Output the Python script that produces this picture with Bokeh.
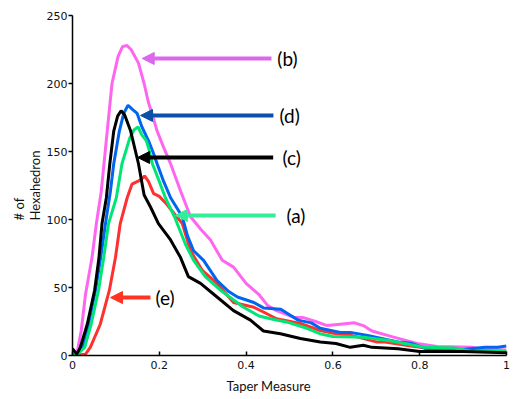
from bokeh.plotting import figure
from bokeh.models import Range1d, FixedTicker, Arrow, NormalHead, Label, Title
from bokeh.embed import file_html
from bokeh.resources import INLINE

# ---- data ----
b_x = [0, 0.01, 0.02, 0.03, 0.045, 0.055, 0.066, 0.08, 0.091, 0.105, 0.115, 0.125, 0.135, 0.152,
       0.165, 0.175, 0.185, 0.195, 0.21, 0.226, 0.249, 0.272, 0.295, 0.318, 0.345, 0.371, 0.40,
       0.429, 0.449, 0.47, 0.487, 0.51, 0.53, 0.56, 0.587, 0.617, 0.65, 0.67, 0.69, 0.74, 0.794,
       0.84, 0.92, 0.95, 1.0]
b_y = [3, 1, 18, 45, 72, 97, 120, 165, 200, 220, 227, 228, 225, 215,
       200, 186, 176, 165, 153, 141, 121, 102, 93, 85, 70, 65, 53,
       45, 37, 33, 31, 28, 28, 25, 22, 23, 24, 22, 18, 13.5, 8.8,
       6.6, 6, 4.5, 4]

d_x = [0, 0.01, 0.023, 0.037, 0.053, 0.065, 0.076, 0.0875, 0.095, 0.108, 0.118, 0.128, 0.138,
       0.149, 0.16, 0.175, 0.185, 0.195, 0.21, 0.226, 0.253, 0.265, 0.279, 0.302, 0.333, 0.36,
       0.38, 0.418, 0.44, 0.48, 0.5, 0.52, 0.55, 0.571, 0.617, 0.64, 0.68, 0.75, 0.78, 0.82,
       0.9, 0.95, 0.98, 1.0]
d_y = [2, 0.5, 6, 23, 48, 72, 97, 121, 141, 165, 178, 184, 181,
       178, 168, 158, 150, 141, 128, 116, 102, 88, 77, 70, 55, 47,
       43, 39, 35, 34, 30, 26, 24, 20, 17, 17, 14.7, 10, 9, 4.4,
       4.4, 6, 6, 7]

c_x = [0, 0.01, 0.018, 0.034, 0.051, 0.061, 0.068, 0.078, 0.086, 0.095, 0.104, 0.112, 0.12,
       0.134, 0.152, 0.165, 0.18, 0.198, 0.226, 0.249, 0.267, 0.295, 0.333, 0.371, 0.41, 0.44,
       0.479, 0.525, 0.571, 0.607, 0.64, 0.67, 0.69, 0.75, 0.8, 0.9, 1.0]
c_y = [5, 1, 6, 23, 48, 72, 97, 116, 141, 165, 176, 180, 177,
       165, 141, 118, 109, 97, 85, 72, 58, 53, 43, 33, 26, 18,
       16, 12.5, 10, 8.8, 6, 7.5, 6, 5, 3, 3, 2]

a_x = [0, 0.01, 0.028, 0.043, 0.06, 0.072, 0.083, 0.101, 0.114, 0.132, 0.142, 0.151, 0.16,
       0.17, 0.175, 0.184, 0.2, 0.214, 0.235, 0.26, 0.279, 0.306, 0.341, 0.394, 0.43, 0.456,
       0.495, 0.54, 0.57, 0.6, 0.67, 0.73, 0.81, 0.88, 0.92, 1.0]
a_y = [2, 0.5, 6, 23, 48, 72, 97, 116, 141, 160, 166, 168, 162,
       158, 153, 141, 128, 116, 102, 82, 70, 58, 48, 35.5, 29, 27,
       24.5, 20, 16, 14, 13.5, 11, 6, 5.5, 3, 3]

e_x = [0, 0.02, 0.03, 0.041, 0.064, 0.085, 0.099, 0.11, 0.126, 0.137, 0.15, 0.16, 0.166,
       0.175, 0.187, 0.2, 0.215, 0.235, 0.253, 0.272, 0.299, 0.333, 0.371, 0.418, 0.44, 0.47,
       0.525, 0.571, 0.607, 0.64, 0.7, 0.72, 0.78, 0.86, 1.0]
e_y = [1, 0.5, 1, 6, 23, 48, 72, 97, 116, 126, 128, 130, 132,
       128, 119, 117, 112, 104, 97, 77, 62.5, 53, 39, 35.5, 32, 27,
       23.5, 18.4, 16, 15, 10, 10, 7, 3.7, 3]

x_ticks = [0, 0.2, 0.4, 0.6, 0.8, 1]
x_tick_labels = ["0", "0.2", "0.4", "0.6", "0.8", "1"]
y_ticks = [0, 50, 100, 150, 200, 250]

series = [
    (b_x, b_y, "#ff66f0"),
    (e_x, e_y, "#ff3030"),
    (d_x, d_y, "#0066f0"),
    (a_x, a_y, "#00e676"),
    (c_x, c_y, "#000000"),
]

# annotations: label, tail (x, y), head x, text x, colour
notes = [
    ("(b)", 0.4585, 218.4, 0.1606, 0.472, "#dd66ee"),
    ("(d)", 0.463, 176.5, 0.1567, 0.477, "#0a4fa8"),
    ("(c)", 0.4624, 145.6, 0.150, 0.484, "#000000"),
    ("(a)", 0.468, 103.0, 0.237, 0.493, "#33ee99"),
    ("(e)", 0.1797, 42.6, 0.0876, 0.191, "#ff3322"),
]

p = figure(width=530, height=399, output_backend="svg", toolbar_location=None,
           x_range=Range1d(0, 1), y_range=Range1d(0, 250),
           min_border_left=72, min_border_right=24, min_border_top=15, min_border_bottom=44)
p.outline_line_color = None
p.xgrid.visible = False
p.ygrid.visible = False
p.background_fill_color = "white"

for xs, ys, col in series:
    p.line(xs, ys, line_color=col, line_width=3)

for txt, tx, ty, hx, lx, col in notes:
    p.add_layout(Arrow(x_start=tx, y_start=ty, x_end=hx, y_end=ty,
                       line_color=col, line_width=4,
                       end=NormalHead(size=12, fill_color=col, line_color=col, line_width=1)))
    p.add_layout(Label(x=lx, y=ty, text=txt, text_font="Lato", text_font_size="19px",
                       text_baseline="middle", text_align="left", text_color="#000000"))

# axis titles as side titles so they can be offset like the reference
p.add_layout(Title(text="Taper Measure", align="left", offset=154, standoff=9,
                   text_font="Lato", text_font_size="13px", text_font_style="normal",
                   text_color="#111111"), "below")
p.add_layout(Title(text="# of\nHexahedron", align="center", offset=10, standoff=2,
                   text_font="Lato", text_font_size="13px", text_font_style="normal",
                   text_color="#111111"), "left")

xa = p.xaxis[0]
xa.ticker = FixedTicker(ticks=x_ticks)
xa.major_label_overrides = {t: l for t, l in zip(x_ticks, x_tick_labels)}
xa.major_tick_in = 4
xa.major_tick_out = 0
xa.minor_tick_line_color = None
xa.axis_line_width = 1.5
xa.major_tick_line_width = 1.5
xa.major_label_text_font = "DejaVu Sans"
xa.major_label_text_font_size = "11px"
xa.major_label_text_color = "#111111"
xa.major_label_standoff = 5

ya = p.yaxis[0]
ya.ticker = FixedTicker(ticks=y_ticks)
ya.major_tick_in = 0
ya.major_tick_out = 4
ya.minor_tick_line_color = None
ya.axis_line_width = 1.5
ya.major_tick_line_width = 1.5
ya.major_label_text_font = "DejaVu Sans"
ya.major_label_text_font_size = "11px"
ya.major_label_text_color = "#111111"
ya.major_label_standoff = 1

open("out.html", "w").write(file_html(p, INLINE))
